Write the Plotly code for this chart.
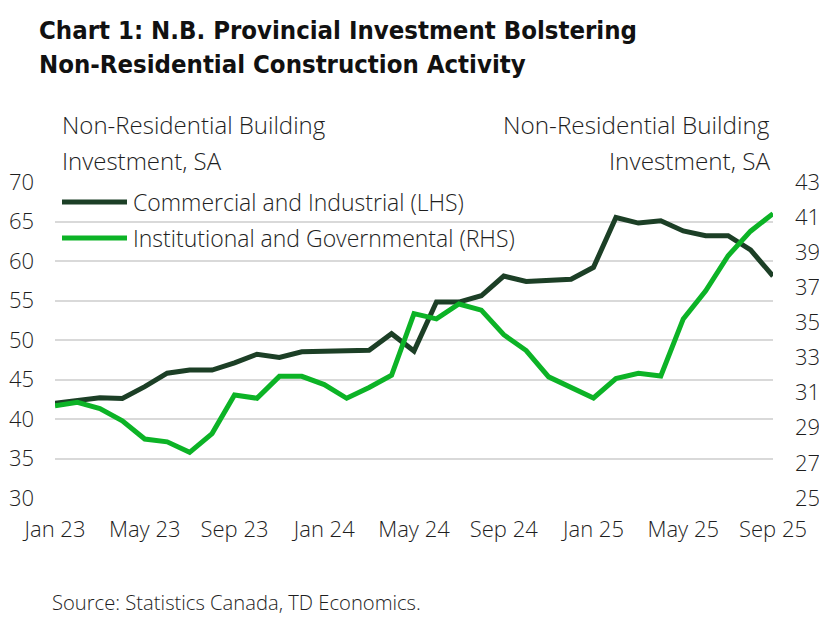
import plotly.graph_objects as go

months = ["Jan 23","Feb 23","Mar 23","Apr 23","May 23","Jun 23","Jul 23","Aug 23","Sep 23","Oct 23","Nov 23","Dec 23",
          "Jan 24","Feb 24","Mar 24","Apr 24","May 24","Jun 24","Jul 24","Aug 24","Sep 24","Oct 24","Nov 24","Dec 24",
          "Jan 25","Feb 25","Mar 25","Apr 25","May 25","Jun 25","Jul 25","Aug 25","Sep 25"]

commercial_industrial = [42.0, 42.4, 42.7, 42.6, 44.1, 45.8, 46.2, 46.2, 47.1, 48.2, 47.8, 48.5,
                         48.6, 48.6, 48.7, 50.8, 48.6, 54.8, 54.8, 55.6, 58.1, 57.4, 57.6, 57.7,
                         59.2, 65.5, 64.8, 65.1, 63.8, 63.2, 63.2, 61.4, 58.1]

institutional_governmental = [30.26, 30.45, 30.1, 29.4, 28.36, 28.2, 27.6, 28.67, 30.87, 30.68, 31.93, 31.93,
                              31.46, 30.68, 31.3, 31.99, 35.5, 35.2, 36.05, 35.7, 34.3, 33.4, 31.9, 31.3,
                              30.7, 31.8, 32.1, 31.95, 35.2, 36.8, 38.8, 40.2, 41.2]

tick_labels = ["Jan 23", "May 23", "Sep 23", "Jan 24", "May 24", "Sep 24", "Jan 25", "May 25", "Sep 25"]
left_ticks = [30, 35, 40, 45, 50, 55, 60, 65, 70]
right_ticks = [25, 27, 29, 31, 33, 35, 37, 39, 41, 43]

series_names = ["Commercial and Industrial (LHS)", "Institutional and Governmental (RHS)"]
title_lines = ["Chart 1: N.B. Provincial Investment Bolstering", "Non-Residential Construction Activity"]
axis_title_lines = ["Non-Residential Building", "Investment, SA"]
source_text = "Source: Statistics Canada, TD Economics."

DARK = "#1c3f26"
BRIGHT = "#0cb326"
FONT = "Open Sans, Roboto, sans-serif"
TXT = "#1e1e1e"
W = 300

# page has 8px body margin: plot area at page px x 55..773, y 182..498
PX0, PX1, PY0, PY1 = 55, 773, 182, 498


def px(x):
    return (x - PX0) / (PX1 - PX0)


def py(y):
    return (PY1 - y) / (PY1 - PY0)


fig = go.Figure()
fig.add_trace(go.Scatter(x=months, y=commercial_industrial, mode="lines", name=series_names[0],
                         line=dict(color=DARK, width=5), yaxis="y"))
fig.add_trace(go.Scatter(x=months, y=institutional_governmental, mode="lines", name=series_names[1],
                         line=dict(color=BRIGHT, width=5), yaxis="y2"))

TICKFONT = dict(family=FONT, size=22, color=TXT, weight=W)
fig.update_layout(
    width=819, height=609,
    margin=dict(l=PX0 - 8, r=827 - PX1, t=PY0 - 8, b=617 - PY1),
    paper_bgcolor="white", plot_bgcolor="white",
    showlegend=False,
    font=dict(family=FONT, size=20, color=TXT, weight=W),
    xaxis=dict(type="category", tickmode="array", tickvals=tick_labels, ticktext=tick_labels,
               range=[0, len(months) - 1], showgrid=False, zeroline=False, showline=False, automargin=False,
               ticks="", ticklen=0, ticklabelstandoff=16, tickfont=TICKFONT),
    yaxis=dict(range=[30, 70], tickvals=left_ticks, showgrid=True, gridcolor="#d9d9d9", gridwidth=1.5,
               zeroline=False, showline=False, ticks="", ticklabelstandoff=20, automargin=False,
               tickfont=TICKFONT),
    yaxis2=dict(range=[25, 43], tickvals=right_ticks, overlaying="y", side="right", showgrid=False,
                zeroline=False, showline=False, ticks="", ticklabelstandoff=21, automargin=False,
                tickfont=TICKFONT),
)

TITLE_FONT = dict(family="DejaVu Sans Condensed, DejaVu Sans, sans-serif", size=25.5, color="#111111")
annotations = []
for i, t in enumerate(title_lines):
    annotations.append(dict(text="<b>" + t + "</b>", x=px(37), y=py(30 + 34 * i), xref="paper", yref="paper",
                            xanchor="left", yanchor="middle", showarrow=False, font=TITLE_FONT))
for i, t in enumerate(axis_title_lines):
    annotations.append(dict(text=t, x=px(60), y=py(125 + 35 * i), xref="paper", yref="paper",
                            xanchor="left", yanchor="middle", showarrow=False,
                            font=dict(size=24, color=TXT, weight=W)))
    annotations.append(dict(text=t, x=px(772), y=py(125 + 35 * i), xref="paper", yref="paper",
                            xanchor="right", yanchor="middle", showarrow=False,
                            font=dict(size=24.3, color=TXT, weight=W)))
annotations.append(dict(text=source_text, x=px(50), y=py(602), xref="paper", yref="paper",
                        xanchor="left", yanchor="middle", showarrow=False,
                        font=dict(size=20.2, color=TXT, weight=W)))

# manual legend (positions relative to plot area)
shapes = []
for i, (name, col) in enumerate(zip(series_names, [DARK, BRIGHT])):
    yp = py(202 + 36 * i)
    shapes.append(dict(type="line", xref="paper", yref="paper", x0=px(62), x1=px(127), y0=yp, y1=yp,
                       line=dict(color=col, width=5)))
    annotations.append(dict(text=name, x=px(131), y=yp, xref="paper", yref="paper", xanchor="left",
                            yanchor="middle", showarrow=False, font=dict(size=23, color=TXT, weight=W)))

fig.update_layout(annotations=annotations, shapes=shapes)
fig.write_html("out.html")
